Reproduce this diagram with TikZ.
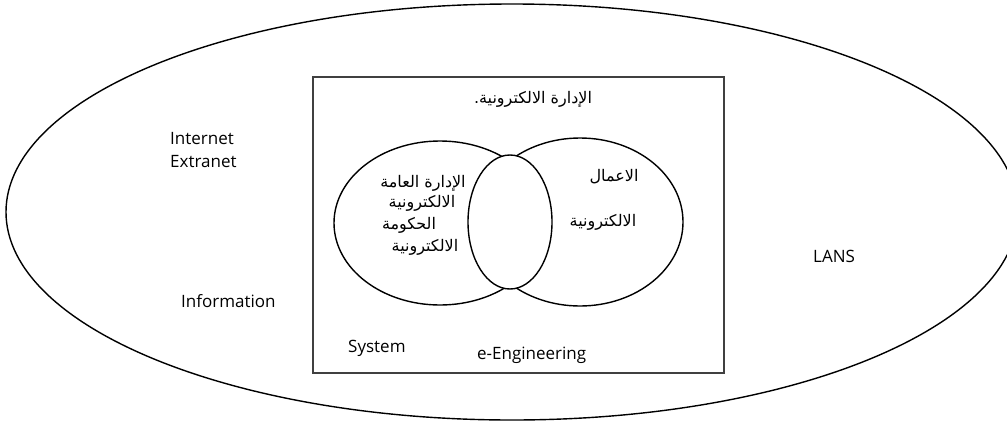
\documentclass[tikz,border=0pt]{standalone}
\usepackage{fontspec}
\setmainfont{Open Sans}
\newfontfamily\arabicfont[Script=Arabic]{DejaVu Sans}
\TeXXeTstate=1
\begin{document}
\begin{tikzpicture}[x=1pt,y=-1pt,
  lat/.style={anchor=west,inner sep=0pt,font=\fontsize{17}{20}\selectfont},
  ara/.style={inner sep=0pt,font=\arabicfont\fontsize{16}{19}\selectfont},
  outline/.style={line width=1.4pt,draw=black}]
\useasboundingbox (0,0) rectangle (1007,421);
\clip (0,0) rectangle (1007,421);

% outer network ellipse
\draw[outline] (512,212) ellipse [x radius=506, y radius=208];

% e-management frame
\draw[line width=1.8pt,draw=black!75] (313,77) rectangle (724,373);

% two overlapping domains and the shared lens
\draw[outline] (440,223) ellipse [x radius=106, y radius=82];
\draw[outline] (580,222) ellipse [x radius=103, y radius=84];
\draw[outline,fill=white] (510,222) ellipse [x radius=42, y radius=67];

% labels
\node[ara] (title) at (533,99) {\beginR الإدارة الالكترونية.\endR};

\node[ara] (l1) at (423,183) {\beginR الإدارة العامة\endR};
\node[ara] (l2) at (422,203) {\beginR الالكترونية\endR};
\node[ara] (l3) at (409,225) {\beginR الحكومة\endR};
\node[ara] (l4) at (425,247) {\beginR الالكترونية\endR};

\node[ara] (r1) at (614,177) {\beginR الاعمال\endR};
\node[ara] (r2) at (603,222) {\beginR الالكترونية\endR};

\node[lat] (internet) at (170,139) {Internet};
\node[lat] (extranet) at (170,162) {Extranet};
\node[lat] (info) at (181,301) {Information};
\node[lat] (system) at (348,348) {System};
\node[lat] (eeng) at (477,355) {e-Engineering};
\node[lat] (lans) at (813,256) {LANS};
\end{tikzpicture}
\end{document}
